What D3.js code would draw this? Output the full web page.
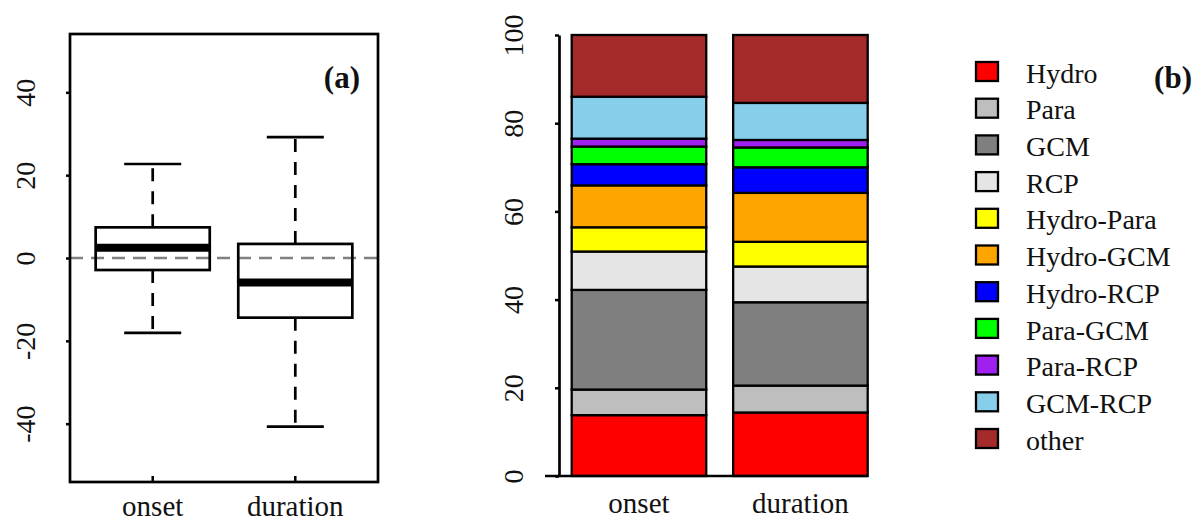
<!DOCTYPE html>
<html lang="en">
<head>
<meta charset="UTF-8">
<title>Boxplot and variance shares</title>
<style>
body { margin: 0; background: #fff; }
svg text { font-family: "Liberation Serif", serif !important; fill: #111; }
</style>
</head>
<body>
<script src="https://d3js.org/d3.v7.min.js"></script>
<script>
// ---- data ----
var groups = ["onset", "duration"];
// boxplot stats for panel (a)
var whiskLo = [-18.1, -40.7];
var q1 = [-2.9, -14.4];
var med = [2.5, -5.9];
var q3 = [7.4, 3.4];
var whiskHi = [22.7, 29.2];
var ticksA = [-40, -20, 0, 20, 40];

// variance shares (%) for panel (b)
var sources = ["Hydro", "Para", "GCM", "RCP", "Hydro-Para", "Hydro-GCM", "Hydro-RCP", "Para-GCM", "Para-RCP", "GCM-RCP", "other"];
var colors = ["#ff0000", "#bebebe", "#7f7f7f", "#e5e5e5", "#ffff00", "#ffa500", "#0000ff", "#00ff00", "#a020f0", "#87ceeb", "#a52a2a"];
var onsetShare = [13.8, 5.8, 22.6, 8.7, 5.5, 9.5, 4.8, 4.0, 1.8, 9.5, 14.0];
var durationShare = [14.4, 6.1, 18.9, 8.1, 5.6, 11.1, 5.8, 4.5, 1.7, 8.4, 15.4];
var ticksB = [0, 20, 40, 60, 80, 100];

var serif = "'Liberation Serif', serif";
var width = 1198, height = 521;
var svg = d3.select("body").append("svg")
    .attr("width", width)
    .attr("height", height)
    .style("font-family", serif);

// ================= panel (a) =================
var xA = d3.scaleLinear().domain([0.42, 2.58]).range([70, 378]);
var yA = d3.scaleLinear().domain([-54.08, 54.08]).range([482, 34]);
var gA = svg.append("g");

// zero reference line
gA.append("line")
    .attr("x1", 70).attr("x2", 378)
    .attr("y1", yA(0)).attr("y2", yA(0))
    .attr("stroke", "#808080").attr("stroke-width", 2.5)
    .attr("stroke-dasharray", "13,8");

var boxW = 0.8;
var boxes = gA.selectAll(".box").data(groups).enter().append("g").attr("class", "box");

// whiskers (dashed)
boxes.append("line")
    .attr("x1", function(d, i) { return xA(i + 1); })
    .attr("x2", function(d, i) { return xA(i + 1); })
    .attr("y1", function(d, i) { return yA(q3[i]); })
    .attr("y2", function(d, i) { return yA(whiskHi[i]); })
    .attr("stroke", "#000").attr("stroke-width", 2.7).attr("stroke-dasharray", "13,10");
boxes.append("line")
    .attr("x1", function(d, i) { return xA(i + 1); })
    .attr("x2", function(d, i) { return xA(i + 1); })
    .attr("y1", function(d, i) { return yA(q1[i]); })
    .attr("y2", function(d, i) { return yA(whiskLo[i]); })
    .attr("stroke", "#000").attr("stroke-width", 2.7).attr("stroke-dasharray", "13,10");
// caps
[whiskHi, whiskLo].forEach(function(arr) {
  boxes.append("line")
      .attr("x1", function(d, i) { return xA(i + 1 - boxW / 4); })
      .attr("x2", function(d, i) { return xA(i + 1 + boxW / 4); })
      .attr("y1", function(d, i) { return yA(arr[i]); })
      .attr("y2", function(d, i) { return yA(arr[i]); })
      .attr("stroke", "#000").attr("stroke-width", 2.7);
});
// box
boxes.append("rect")
    .attr("x", function(d, i) { return xA(i + 1 - boxW / 2); })
    .attr("width", xA(boxW) - xA(0))
    .attr("y", function(d, i) { return yA(q3[i]); })
    .attr("height", function(d, i) { return yA(q1[i]) - yA(q3[i]); })
    .attr("fill", "none").attr("stroke", "#000").attr("stroke-width", 2.7);
// median
boxes.append("line")
    .attr("x1", function(d, i) { return xA(i + 1 - boxW / 2); })
    .attr("x2", function(d, i) { return xA(i + 1 + boxW / 2); })
    .attr("y1", function(d, i) { return yA(med[i]); })
    .attr("y2", function(d, i) { return yA(med[i]); })
    .attr("stroke", "#000").attr("stroke-width", 8);

// frame
gA.append("rect")
    .attr("x", 70).attr("y", 34).attr("width", 308).attr("height", 448)
    .attr("fill", "none").attr("stroke", "#000").attr("stroke-width", 2.7);

// y axis
var axA = gA.append("g")
    .attr("transform", "translate(70,0)")
    .call(d3.axisLeft(yA).tickValues(ticksA).tickSize(4).tickFormat(function(d) { return String(d); }))
    .attr("font-family", serif).attr("font-size", 28);
axA.select(".domain").remove();
axA.selectAll(".tick line").attr("stroke-width", 2.5);
axA.selectAll(".tick text")
    .attr("x", 0).attr("dy", 0)
    .attr("text-anchor", "middle")
    .style("font-family", serif).style("font-size", "28px")
    .attr("transform", "translate(-35,0) rotate(-90)");

// x ticks and labels
gA.selectAll(".xtick").data(groups).enter().append("line")
    .attr("x1", function(d, i) { return xA(i + 1); })
    .attr("x2", function(d, i) { return xA(i + 1); })
    .attr("y1", 476).attr("y2", 482)
    .attr("stroke", "#000").attr("stroke-width", 2.5);
gA.selectAll(".xlab").data(groups).enter().append("text")
    .attr("x", function(d, i) { return xA(i + 1); })
    .attr("y", 516)
    .attr("text-anchor", "middle")
    .style("font-size", "29px")
    .text(function(d) { return d; });

gA.append("text")
    .attr("x", 360).attr("y", 88)
    .attr("text-anchor", "end")
    .style("font-size", "31px").style("font-weight", "bold")
    .text("(a)");

// ================= panel (b) =================
var xB = d3.scaleLinear().domain([0.2, 2.4]).range([571.7, 867.7]);
var yB = d3.scaleLinear().domain([0, 100]).range([476, 35]);
var gB = svg.append("g");

var table = groups.map(function(g, gi) {
  var row = { group: g, idx: gi };
  var vals = gi === 0 ? onsetShare : durationShare;
  sources.forEach(function(s, si) { row[s] = vals[si]; });
  return row;
});
var series = d3.stack().keys(sources)(table);

gB.selectAll(".layer").data(series).enter().append("g")
    .attr("class", "layer")
    .attr("fill", function(d, i) { return colors[i]; })
  .selectAll("rect").data(function(d) { return d; }).enter().append("rect")
    .attr("x", function(d) { return xB(0.2 + d.data.idx * 1.2); })
    .attr("width", xB(1) - xB(0))
    .attr("y", function(d) { return yB(d[1]); })
    .attr("height", function(d) { return yB(d[0]) - yB(d[1]); })
    .attr("stroke", "#000").attr("stroke-width", 2.3);

// baseline
gB.append("line")
    .attr("x1", 545).attr("x2", xB(2.4))
    .attr("y1", yB(0)).attr("y2", yB(0))
    .attr("stroke", "#000").attr("stroke-width", 2.7);

var axB = gB.append("g")
    .attr("transform", "translate(559,0)")
    .call(d3.axisLeft(yB).tickValues(ticksB).tickSize(4).tickSizeOuter(0))
    .attr("font-family", serif).attr("font-size", 28);
axB.select(".domain").attr("stroke-width", 2.7);
axB.selectAll(".tick line").attr("stroke-width", 2.5);
axB.selectAll(".tick text")
    .attr("x", 0).attr("dy", 0)
    .attr("text-anchor", "middle")
    .style("font-family", serif).style("font-size", "28px")
    .attr("transform", "translate(-36,0) rotate(-90)");

gB.selectAll(".xlab").data(groups).enter().append("text")
    .attr("x", function(d, i) { return xB(0.7 + i * 1.2); })
    .attr("y", 513)
    .attr("text-anchor", "middle")
    .style("font-size", "29px")
    .text(function(d) { return d; });

// legend
var leg = svg.append("g").selectAll(".leg").data(sources).enter().append("g")
    .attr("transform", function(d, i) { return "translate(0," + (i * 36.7) + ")"; });
leg.append("rect")
    .attr("x", 976).attr("y", 62)
    .attr("width", 22).attr("height", 19)
    .attr("fill", function(d, i) { return colors[i]; })
    .attr("stroke", "#000").attr("stroke-width", 2.3);
leg.append("text")
    .attr("x", 1026).attr("y", 82.7)
    .style("font-size", "28px")
    .text(function(d) { return d; });

svg.append("text")
    .attr("x", 1192).attr("y", 88)
    .attr("text-anchor", "end")
    .style("font-size", "31px").style("font-weight", "bold")
    .text("(b)");
</script>
</body>
</html>
